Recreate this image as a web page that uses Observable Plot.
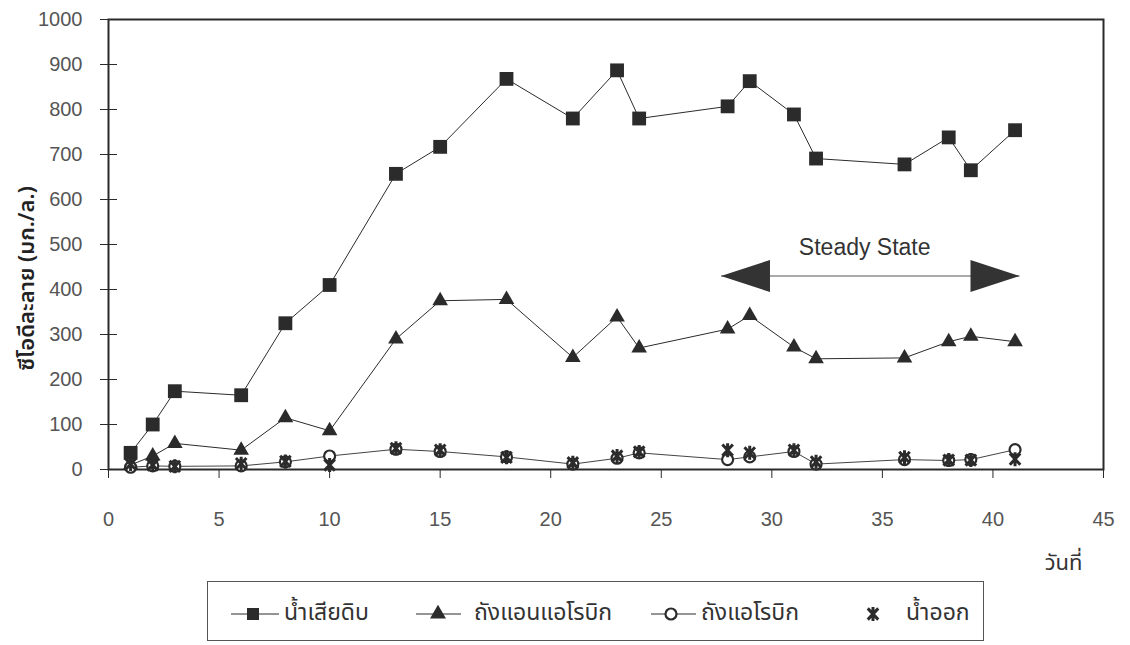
<!DOCTYPE html>
<html>
<head>
<meta charset="utf-8">
<script src="https://cdn.jsdelivr.net/npm/d3@7"></script>
<script src="https://cdn.jsdelivr.net/npm/@observablehq/plot@0.6"></script>
<style>
  body { margin: 0; background: #fff; }
  #wrap { position: relative; width: 1130px; height: 645px; }
  #legend { position: absolute; left: 207px; top: 581px; width: 777px; height: 60px;
            border: 1px solid #555; box-sizing: border-box; background: #fff; }
  #legend span { position: absolute; top: 16px; font-size: 23px; color: #333;
                 font-family: "Noto Sans Thai", "Loma", "Garuda", "Norasi", "DejaVu Sans", sans-serif; line-height: 30px; }
</style>
</head>
<body>
<div id="wrap"><div id="chart"></div><div id="legend"></div></div>
<script>
// ---- data ----
const days = [1, 2, 3, 6, 8, 10, 13, 15, 18, 21, 23, 24, 28, 29, 31, 32, 36, 38, 39, 41];
const rawWastewater = [37, 100, 174, 165, 325, 410, 657, 717, 868, 780, 887, 780, 807, 863, 789, 691, 678, 738, 665, 754];
const anaerobicTank = [10, 30, 58, 43, 115, 86, 290, 375, 378, 249, 339, 270, 312, 342, 272, 246, 248, 284, 296, 284];
const aerobicTank = [5, 8, 7, 8, 17, 30, 45, 40, 28, 12, 25, 37, 22, 28, 40, 12, 22, 20, 22, 44];
const effluent = [12, 10, 7, 13, 18, 10, 47, 43, 27, 15, 30, 39, 43, 37, 43, 17, 27, 21, 21, 23];
const seriesNames = ["น้ำเสียดิบ", "ถังแอนแอโรบิก", "ถังแอโรบิก", "น้ำออก"];
const xTicks = [0, 5, 10, 15, 20, 25, 30, 35, 40, 45];
const yTicks = [0, 100, 200, 300, 400, 500, 600, 700, 800, 900, 1000];
const yLabel = "ซีโอดีละลาย (มก./ล.)";
const xLabel = "วันที่";
const steadyLabel = "Steady State";
const steadySpan = [27.7, 41.2];   // arrow tips (days)
const steadyLevel = 430;           // arrow level (mg/L)
const steadyTextPos = [34.2, 494];

// ---- build tables ----
const rows = (vals) => days.map((d, i) => ({day: d, v: vals[i]}));
const raw = rows(rawWastewater), ana = rows(anaerobicTank), aer = rows(aerobicTank), eff = rows(effluent);

const ink = "#2b2b2b";
const thai = '"Noto Sans Thai", "Loma", "Garuda", "Norasi", "DejaVu Sans", sans-serif';

// custom symbols
const asterisk = {draw(ctx, size) {
  const r = 7;
  ctx.moveTo(0, -r); ctx.lineTo(0, r);
  ctx.moveTo(-r * 0.75, -r * 0.8); ctx.lineTo(r * 0.75, r * 0.8);
  ctx.moveTo(-r * 0.75, r * 0.8); ctx.lineTo(r * 0.75, -r * 0.8);
}};
const headLeft = {draw(ctx) { ctx.moveTo(0, 0); ctx.lineTo(49, -16); ctx.lineTo(49, 16); ctx.closePath(); }};
const headRight = {draw(ctx) { ctx.moveTo(0, 0); ctx.lineTo(-49, -16); ctx.lineTo(-49, 16); ctx.closePath(); }};

const chart = Plot.plot({
  width: 1130,
  height: 580,
  marginLeft: 108,
  marginRight: 27,
  marginTop: 19,
  marginBottom: 111,
  x: {domain: [0, 45]},
  y: {domain: [0, 1000]},
  style: {fontFamily: '"Liberation Sans", Arial, sans-serif', fontSize: "20px", color: "#333", background: "#fff"},
  marks: [
    Plot.axisX({ticks: xTicks, tickFormat: d => String(d), tickSize: 9, tickPadding: 33, label: null, stroke: ink, fill: "#555", fontSize: 20}),
    Plot.axisY({ticks: yTicks, tickFormat: d => String(d), tickSize: 8, tickPadding: 18, label: null, stroke: ink, fill: "#555", fontSize: 20}),
    Plot.axisY({ticks: yTicks, tickSize: -9, tickFormat: () => "", label: null, stroke: ink}),
    Plot.frame({stroke: ink, strokeWidth: 2}),
    // series lines
    Plot.line(raw, {x: "day", y: "v", stroke: ink, strokeWidth: 1}),
    Plot.line(ana, {x: "day", y: "v", stroke: ink, strokeWidth: 1}),
    Plot.line(aer, {x: "day", y: "v", stroke: "#444", strokeWidth: 1}),
    // markers
    Plot.dot(raw, {x: "day", y: "v", symbol: "square", r: 7.8, fill: ink, stroke: "none"}),
    Plot.dot(ana, {x: "day", y: "v", symbol: "triangle", r: 5.8, fill: ink, stroke: "none"}),
    Plot.dot(aer, {x: "day", y: "v", symbol: "circle", r: 5.5, fill: "#fff", stroke: ink, strokeWidth: 2.2}),
    Plot.dot(eff, {x: "day", y: "v", symbol: asterisk, stroke: ink, strokeWidth: 3}),
    // steady state arrow
    Plot.link([steadySpan], {x1: d => d[0], x2: d => d[1], y1: steadyLevel, y2: steadyLevel, stroke: "#555", strokeWidth: 1}),
    Plot.dot([steadySpan[0]], {x: d => d, y: steadyLevel, symbol: headLeft, fill: "#333", stroke: "none"}),
    Plot.dot([steadySpan[1]], {x: d => d, y: steadyLevel, symbol: headRight, fill: "#333", stroke: "none"}),
    Plot.text([steadyLabel], {x: steadyTextPos[0], y: steadyTextPos[1], text: d => d, fontSize: 23, fill: "#333"}),
    // axis titles
    Plot.text([yLabel], {frameAnchor: "left", textAnchor: "middle", text: d => d, rotate: -90, dx: -82, dy: 34, fontSize: 22, fontWeight: 600, fill: "#222", fontFamily: thai}),
    Plot.text([xLabel], {frameAnchor: "bottom-right", textAnchor: "middle", text: d => d, dx: -40, dy: 100, fontSize: 22, fill: "#333", fontFamily: thai})
  ]
});
document.getElementById("chart").appendChild(chart);

// ---- legend (HTML below the plot area) ----
const lg = document.getElementById("legend");
const svg = d3.select(lg).append("svg").attr("width", 775).attr("height", 58)
  .style("position", "absolute").style("left", 0).style("top", 0);
const cy = 32;
const items = [
  {x0: 23, x1: 71, cx: 45, tx: 76, kind: "square"},
  {x0: 208, x1: 253, cx: 230, tx: 266, kind: "triangle"},
  {x0: 443, x1: 488, cx: 463, tx: 493, kind: "circle"},
  {x0: null, x1: null, cx: 665, tx: 698, kind: "asterisk"}
];
items.forEach((it, i) => {
  if (it.x0 !== null) svg.append("line").attr("x1", it.x0).attr("x2", it.x1).attr("y1", cy).attr("y2", cy).attr("stroke", ink).attr("stroke-width", 1);
  if (it.kind === "square") svg.append("rect").attr("x", it.cx - 6).attr("y", cy - 6).attr("width", 12).attr("height", 12).attr("fill", ink);
  if (it.kind === "triangle") svg.append("path").attr("transform", `translate(${it.cx},${cy})`).attr("d", d3.symbol(d3.symbolTriangle, 110)()).attr("fill", ink);
  if (it.kind === "circle") svg.append("circle").attr("cx", it.cx).attr("cy", cy).attr("r", 5.5).attr("fill", "#fff").attr("stroke", ink).attr("stroke-width", 2.2);
  if (it.kind === "asterisk") { const p = d3.path(); asterisk.draw(p); svg.append("path").attr("transform", `translate(${it.cx},${cy})`).attr("d", p.toString()).attr("stroke", ink).attr("stroke-width", 3).attr("fill", "none"); }
  const s = document.createElement("span");
  s.style.left = it.tx + "px";
  s.textContent = seriesNames[i];
  lg.appendChild(s);
});
</script>
</body>
</html>
